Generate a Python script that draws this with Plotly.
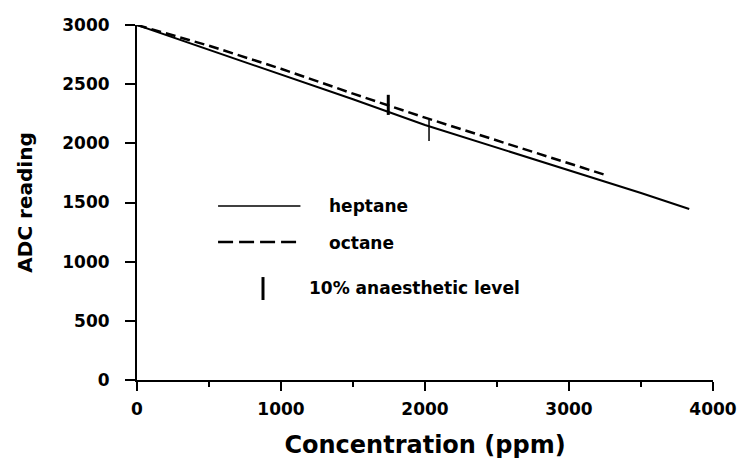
import plotly.graph_objects as go

# Data
heptane_x = [0, 500, 1000, 1500, 2000, 2500, 3000, 3500, 3835]
heptane_y = [3000, 2790, 2582, 2372, 2155, 1963, 1776, 1580, 1445]
octane_x = [0, 500, 1000, 1500, 2000, 2500, 3000, 3240]
octane_y = [3000, 2825, 2630, 2420, 2217, 2023, 1828, 1738]

# 10% anaesthetic level markers (x, y-low, y-high)
oct_level_x = [1745, 1745]
oct_level_y = [2240, 2410]
hep_level_x = [2028, 2028]
hep_level_y = [2020, 2200]

x_ticks = [0, 1000, 2000, 3000, 4000]
y_ticks = [0, 500, 1000, 1500, 2000, 2500, 3000]

FONT = "DejaVu Sans"

fig = go.Figure()
fig.add_trace(go.Scatter(x=heptane_x, y=heptane_y, mode="lines",
                         line=dict(color="black", width=2), name="heptane"))
fig.add_trace(go.Scatter(x=octane_x, y=octane_y, mode="lines",
                         line=dict(color="black", width=2.5, dash="10px,5px"), name="octane"))
fig.add_trace(go.Scatter(x=oct_level_x, y=oct_level_y, mode="lines",
                         line=dict(color="black", width=3), name="oct level"))
fig.add_trace(go.Scatter(x=hep_level_x, y=hep_level_y, mode="lines",
                         line=dict(color="black", width=1.5), name="hep level"))

# Legend drawn inside the plot
fig.add_shape(type="line", xref="x", yref="y", x0=563, x1=1135, y0=1470, y1=1470,
              line=dict(color="black", width=1.5))
fig.add_shape(type="line", xref="x", yref="y", x0=563, x1=1135, y0=1166, y1=1166,
              line=dict(color="black", width=2.5, dash="15px,6px"))
fig.add_shape(type="line", xref="x", yref="y", x0=875, x1=875, y0=676, y1=870,
              line=dict(color="black", width=3))
legend_font = dict(family=FONT, size=17, color="black", weight="bold")
fig.add_annotation(x=1319, y=1470, xref="x", yref="y", text="heptane", showarrow=False,
                   xanchor="left", yanchor="middle", font=legend_font)
fig.add_annotation(x=1319, y=1160, xref="x", yref="y", text="octane", showarrow=False,
                   xanchor="left", yanchor="middle", font=legend_font)
fig.add_annotation(x=1181, y=777, xref="x", yref="y", text="10% anaesthetic level", showarrow=False,
                   xanchor="left", yanchor="middle", font=legend_font)

tickfont = dict(family=FONT, size=17, color="black", weight="bold")
fig.update_layout(
    width=746, height=461, autosize=False,
    margin=dict(l=129, r=41, t=17, b=89),
    plot_bgcolor="white", paper_bgcolor="white",
    showlegend=False,
    xaxis=dict(range=[0, 4000], tickvals=x_ticks, ticktext=[str(v) for v in x_ticks],
               automargin=False,
               showline=True, linecolor="black", linewidth=2,
               ticks="outside", ticklen=9, tickwidth=2, tickcolor="black",
               minor=dict(dtick=500, ticks="outside", ticklen=5, tickwidth=2, tickcolor="black", showgrid=False),
               showgrid=False, zeroline=False, tickfont=tickfont, ticklabelstandoff=4,
               title=dict(text="Concentration (ppm)",
                          font=dict(family=FONT, size=24, color="black", weight="bold"),
                          standoff=18)),
    yaxis=dict(range=[0, 3000], tickvals=y_ticks, ticktext=[str(v) for v in y_ticks],
               automargin=False,
               showline=True, linecolor="black", linewidth=2,
               ticks="outside", ticklen=10, tickwidth=2, tickcolor="black",
               showgrid=False, zeroline=False, tickfont=tickfont, ticklabelstandoff=12,
               title=dict(text="ADC reading",
                          font=dict(family=FONT, size=20, color="black", weight="bold"),
                          standoff=24)),
)

fig.write_html("out.html")
